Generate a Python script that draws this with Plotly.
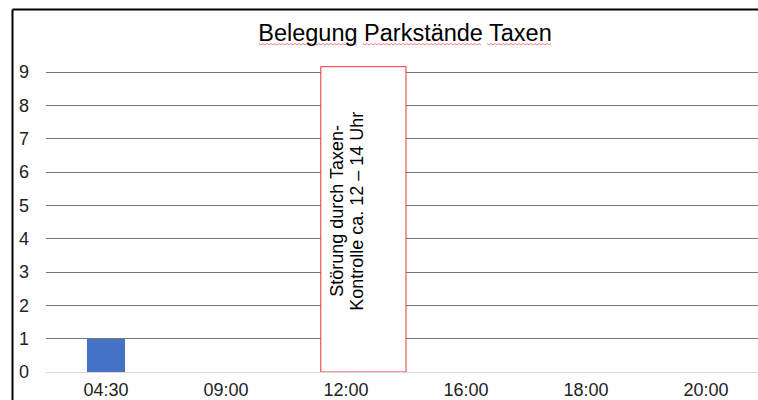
import plotly.graph_objects as go

categories = ["04:30", "09:00", "12:00", "16:00", "18:00", "20:00"]
values = [1, 0, 0, 0, 0, 0]
y_ticks = list(range(0, 10))
title_text = "Belegung Parkstände Taxen"
note_line1 = "Störung durch Taxen-"
note_line2 = "Kontrolle ca. 12 – 14 Uhr"

FONT = "Arial, Liberation Sans, sans-serif"
W, H = 758, 400
L, R, T, B = 46, 0, 60, 28
pw, ph = W - L - R, H - T - B

def px_x(px):
    return (px - L) / pw

def px_y(py):
    return (H - B - py) / ph

fig = go.Figure()
fig.add_trace(go.Bar(x=list(range(len(categories))), y=values,
                     marker=dict(color="#4472C4", line=dict(width=0)),
                     width=0.317, hoverinfo="skip"))

shapes = []
# note box (12–14 Uhr) in data coords
shapes.append(dict(type="rect", xref="x", yref="y", x0=1.79, x1=2.5, y0=0, y1=9.16,
                   line=dict(color="#f03030", width=1), fillcolor="white", layer="above"))
# chart border (top + left)
shapes.append(dict(type="line", xref="paper", yref="paper", x0=px_x(12.5), x1=px_x(760),
                   y0=px_y(9.5), y1=px_y(9.5), line=dict(color="black", width=2)))
shapes.append(dict(type="line", xref="paper", yref="paper", x0=px_x(12.5), x1=px_x(12.5),
                   y0=px_y(9.5), y1=px_y(402), line=dict(color="black", width=2)))

# spell-check squiggles under title words
for (a, b) in [(259, 358), (363, 482), (487, 551)]:
    pts = []
    x = a
    up = True
    while x <= b:
        pts.append((px_x(x), px_y(43.5 if up else 45)))
        up = not up
        x += 2
    path = "M " + " L ".join(f"{p[0]:.5f},{p[1]:.5f}" for p in pts)
    shapes.append(dict(type="path", xref="paper", yref="paper", path=path,
                       line=dict(color="#ff8080", width=1)))

fig.update_layout(
    width=W, height=H,
    margin=dict(l=L, r=R, t=T, b=B, pad=0, autoexpand=False),
    paper_bgcolor="white", plot_bgcolor="white",
    showlegend=False,
    bargap=0,
    title=dict(text=title_text, x=405 / W, xref="container", xanchor="center",
               y=1 - 33 / H, yref="container", yanchor="middle", automargin=False,
               font=dict(family=FONT, size=23.5, color="black")),
    xaxis=dict(range=[-0.5, -0.5 + pw / 120], tickmode="array",
               tickvals=list(range(len(categories))), ticktext=categories,
               showgrid=False, zeroline=False, showline=False, ticks="",
               ticklabelstandoff=5, automargin=False,
               tickfont=dict(family=FONT, size=18, color="#222")),
    yaxis=dict(range=[0, ph / 33.33], tickmode="array", tickvals=y_ticks,
               showgrid=True, gridcolor="#757575", gridwidth=1,
               zeroline=True, zerolinecolor="#d9d9d9", zerolinewidth=1,
               showline=False, ticks="", ticklabelstandoff=16, automargin=False,
               tickfont=dict(family=FONT, size=18, color="#222")),
    shapes=shapes,
    font=dict(family=FONT),
)

ycenter = (H - B - 211) / 33.33
fig.add_annotation(x=1.79 + (337 - 321) / 120, y=ycenter, xref="x", yref="y",
                   text=note_line1, textangle=-90, showarrow=False,
                   font=dict(family=FONT, size=18, color="black"),
                   xanchor="center", yanchor="middle")
fig.add_annotation(x=1.79 + (357 - 321) / 120, y=ycenter, xref="x", yref="y",
                   text=note_line2, textangle=-90, showarrow=False,
                   font=dict(family=FONT, size=18, color="black"),
                   xanchor="center", yanchor="middle")

fig.write_html("out.html", config={"displayModeBar": False},
               post_script="document.body.style.margin='0';document.body.style.overflow='hidden';")
